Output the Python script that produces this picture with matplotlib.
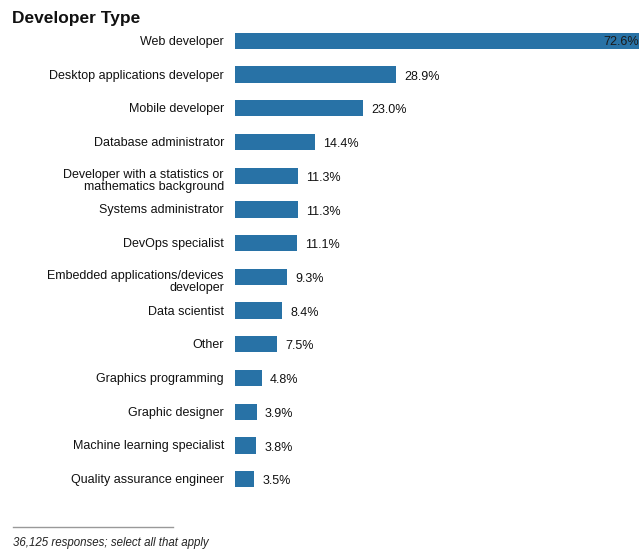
import matplotlib
matplotlib.use('Agg')
import matplotlib.pyplot as plt
from matplotlib.lines import Line2D

plt.rcParams['font.family'] = ['Liberation Sans', 'DejaVu Sans']

# 数据
categories = [
    'Web developer',
    'Desktop applications developer',
    'Mobile developer',
    'Database administrator',
    'Developer with a statistics or\nmathematics background',
    'Systems administrator',
    'DevOps specialist',
    'Embedded applications/devices\ndeveloper',
    'Data scientist',
    'Other',
    'Graphics programming',
    'Graphic designer',
    'Machine learning specialist',
    'Quality assurance engineer',
]
values = [72.6, 28.9, 23.0, 14.4, 11.3, 11.3, 11.1, 9.3, 8.4, 7.5, 4.8, 3.9, 3.8, 3.5]
value_labels = ['72.6%', '28.9%', '23.0%', '14.4%', '11.3%', '11.3%', '11.1%',
                '9.3%', '8.4%', '7.5%', '4.8%', '3.9%', '3.8%', '3.5%']

bar_color = '#2872a6'

fig = plt.figure(figsize=(6.39, 5.5), dpi=100)
ax = fig.add_axes([235 / 639, 1 - 496 / 550, 1 - 235 / 639, 472 / 550])

ypos = list(range(len(categories)))
ax.barh(ypos, values, height=0.48, color=bar_color)
ax.set_xlim(0, values[0])
ax.set_ylim(len(categories) - 0.5, -0.5)
ax.axis('off')

# 类别标签 (右对齐, 在坐标轴左侧)
for y, cat in zip(ypos, categories):
    dy = 0.15 if '\n' in cat else 0.03
    ax.annotate(cat, xy=(0, y + dy), xycoords=('axes fraction', 'data'),
                xytext=(-8, 0), textcoords='offset points',
                ha='right', va='center', fontsize=9, color='#111111',
                linespacing=0.95)

# 数值标签
for y, v, lab in zip(ypos, values, value_labels):
    if v == max(values):
        ax.annotate(lab, xy=(v, y), xytext=(0, -1), textcoords='offset points',
                    ha='right', va='center', fontsize=9, color='#1a1a1a')
    else:
        ax.annotate(lab, xy=(v, y), xytext=(6, -1.5), textcoords='offset points',
                    ha='left', va='center', fontsize=9, color='#111111')

fig.text(12 / 639, 1 - 18 / 550, 'Developer Type', fontsize=12.5,
         fontweight='bold', ha='left', va='center', color='#111111')

fig.add_artist(Line2D([13 / 639, 173 / 639], [1 - 527 / 550, 1 - 527 / 550],
                      color='#999999', linewidth=1, transform=fig.transFigure))
fig.text(13 / 639, 1 - 543 / 550, '36,125 responses; select all that apply',
         fontsize=8.3, style='italic', ha='left', va='center', color='#222222')

fig.savefig('out.png', dpi=100)
